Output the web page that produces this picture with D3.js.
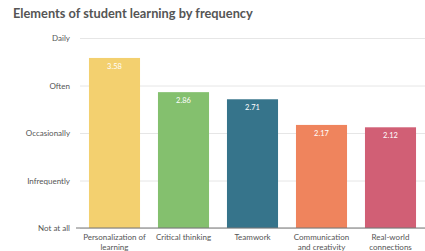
<!DOCTYPE html>
<html>
<head>
<meta charset="utf-8">
<script src="https://cdn.jsdelivr.net/npm/d3@7"></script>
<style>
  body { margin: 0; background: #fff; }
  svg { display: block; font-family: "Lato", "Open Sans", sans-serif; }
</style>
</head>
<body>
<script>
// chart data
const categories = ["Personalization of learning", "Critical thinking", "Teamwork", "Communication and collaboration", "Real-world connections"];
const labelLines = [["Personalization of", "learning"], ["Critical thinking"], ["Teamwork"], ["Communication", "and creativity"], ["Real-world", "connections"]];
const values = [3.58, 2.86, 2.71, 2.17, 2.12];
const colours = ["#f3d06f", "#84c06e", "#36748b", "#ef845d", "#d15f75"];
const tickLabels = ["Not at all", "Infrequently", "Occasionally", "Often", "Daily"];

const width = 425, height = 251;
const margin = {top: 38, right: 0, bottom: 23, left: 80};

const svg = d3.select("body").append("svg")
    .attr("width", width)
    .attr("height", height);

svg.append("text")
    .attr("x", 13)
    .attr("y", 18)
    .text("Elements of student learning by frequency")
    .style("font-size", "12.8px")
    .style("font-weight", "bold")
    .style("fill", "#555");

const x = d3.scaleBand()
    .domain(categories)
    .range([margin.left, width - margin.right])
    .paddingInner(0.26)
    .paddingOuter(0.13);

const y = d3.scaleLinear()
    .domain([0, 4])
    .range([height - margin.bottom, margin.top]);

// gridlines + y labels
const yAxis = svg.append("g")
    .attr("transform", `translate(${margin.left},0)`)
    .call(d3.axisLeft(y).ticks(4).tickFormat(d => tickLabels[d]).tickSize(-(width - margin.left)).tickPadding(10));
yAxis.select(".domain").remove();
yAxis.selectAll(".tick line").attr("stroke", "#e6e6e6");
yAxis.selectAll(".tick text")
    .style("font-size", "8px")
    .style("fill", "#555")
    .style("font-family", "Lato, sans-serif");

// bars
svg.append("g")
    .selectAll("rect")
    .data(values)
    .join("rect")
    .attr("x", (d, i) => x(categories[i]))
    .attr("y", d => y(d))
    .attr("width", x.bandwidth())
    .attr("height", d => y(0) - y(d))
    .attr("fill", (d, i) => colours[i]);

// value labels
svg.append("g")
    .selectAll("text")
    .data(values)
    .join("text")
    .attr("x", (d, i) => x(categories[i]) + x.bandwidth() / 2)
    .attr("y", d => y(d) + 11)
    .attr("text-anchor", "middle")
    .text(d => d.toFixed(2))
    .style("font-size", "7.5px")
    .style("fill", "#fff");

// x axis
svg.append("line")
    .attr("x1", margin.left - 4)
    .attr("x2", width)
    .attr("y1", y(0))
    .attr("y2", y(0))
    .attr("stroke", "#777")
    .attr("stroke-width", 1);

const xl = svg.append("g")
    .selectAll("text")
    .data(categories)
    .join("text")
    .attr("x", d => x(d) + x.bandwidth() / 2)
    .attr("y", y(0) + 12)
    .attr("text-anchor", "middle")
    .style("font-size", "8px")
    .style("fill", "#555");
xl.selectAll("tspan")
    .data((d, i) => labelLines[i])
    .join("tspan")
    .attr("x", function () { return this.parentNode.getAttribute("x"); })
    .attr("dy", (d, i) => i === 0 ? 0 : "1.2em")
    .text(d => d);
</script>
</body>
</html>
